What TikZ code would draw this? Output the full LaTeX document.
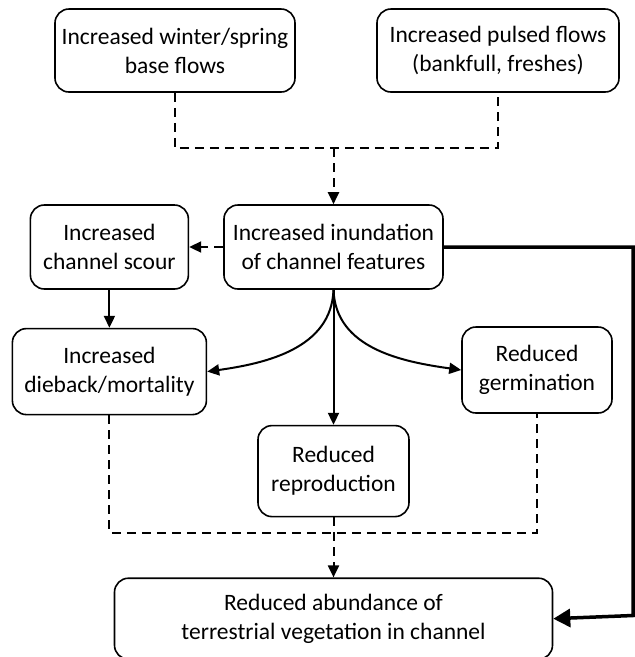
\documentclass[tikz,border=0pt]{standalone}
\usepackage{fontspec}
\setmainfont{Carlito}
\usetikzlibrary{arrows.meta,positioning}

\begin{document}
\begin{tikzpicture}[x=1pt, y=-1pt, font=\fontsize{23.5}{29}\selectfont, node distance=34pt]
\tikzstyle{box}=[draw, line width=1.6pt, rounded corners=14pt, align=center, inner sep=2pt]
\tikzstyle{link}=[line width=2pt, -{Triangle[length=12pt,width=11pt]}]
\tikzstyle{flow}=[link, dash pattern=on 9pt off 6pt]
\useasboundingbox (0,0) rectangle (635,657);
\node[box, minimum width=240pt, minimum height=83pt] (base) at (175,50.5) {Increased winter/spring\\base flows};
\node[box, minimum width=242pt, minimum height=83pt] (pulse) at (498,50.5) {Increased pulsed flows\\(bankfull, freshes)};
\node[box, minimum width=219pt, minimum height=84pt] (inund) at (333.5,247) {Increased inundation\\of channel features};
\node[box, minimum width=158pt, minimum height=84pt, left=34pt of inund] (scour) {Increased\\channel scour};
\node[box, minimum width=194pt, minimum height=86pt, below=38pt of scour] (dieback) {Increased\\dieback/mortality};
\node[box, minimum width=150pt, minimum height=86pt] (germ) at (537,370) {Reduced\\germination};
\node[box, minimum width=151pt, minimum height=91pt, below=135pt of inund] (repro) {Reduced\\reproduction};
\node[box, minimum width=438pt, minimum height=81pt, below=60pt of repro] (final) {Reduced abundance of\\terrestrial vegetation in channel};
\coordinate (join1) at (333.5,148);
\coordinate (join2) at (333.5,533);
\coordinate (rside) at (633,615.5);
% flows into inundation
\draw[dash pattern=on 9pt off 6pt, line width=2pt] (base.south) |- (join1) -| (pulse.south);
\draw[flow] (join1) -- (inund.north);
\draw[flow] (inund.west) -- (scour.east);
\draw[link] (scour.south) -- (scour.south |- dieback.north);
\draw[link] (inund.south) to[out=-92, in=8] (dieback.east);
\draw[link] (inund.south) to[out=-88, in=172] (germ.west);
\draw[link] (inund.south) -- (repro.north);
% responses into abundance
\draw[dash pattern=on 9pt off 6pt, line width=2pt] (dieback.south) |- (join2) -| (germ.south);
\draw[flow] (repro.south) -- (final.north);
\draw[line width=3.5pt, line join=miter, -{Triangle[length=17pt,width=18pt]}] (inund.east) -| (rside) -- (final.east);
\end{tikzpicture}
\end{document}
